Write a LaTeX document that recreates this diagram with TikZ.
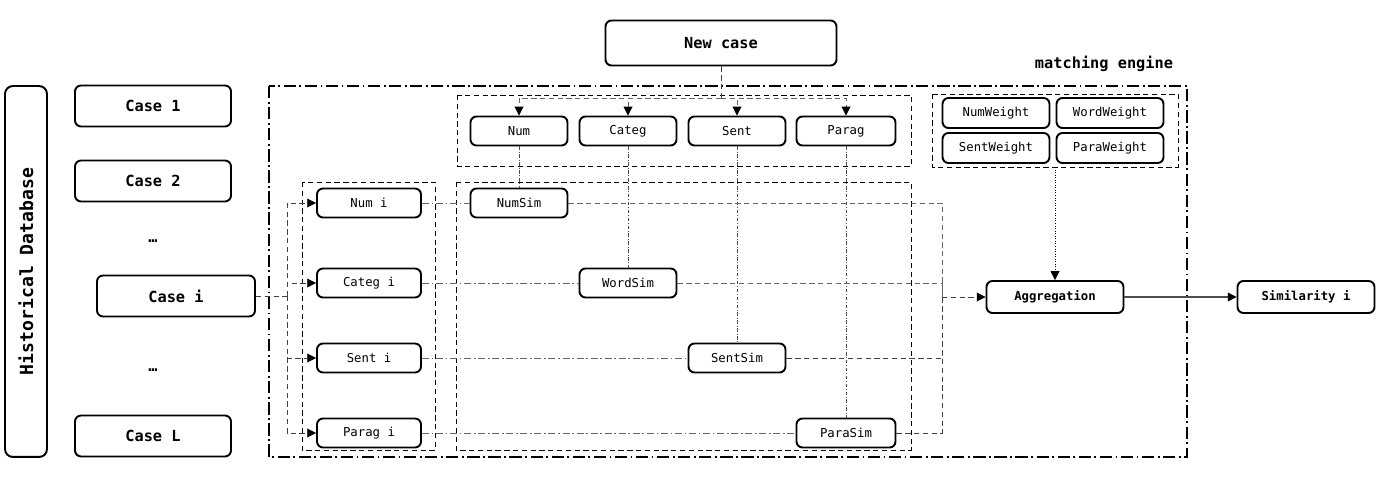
\documentclass[tikz,border=0pt]{standalone}
\usepackage{fontspec}
\setmonofont{DejaVu Sans Mono}
\usepackage{tikz}
\usetikzlibrary{arrows.meta,positioning,shapes}

\tikzset{
  box/.style={draw, rounded corners=3.4pt, line width=1.1pt, align=center, fill=white},
  bigbox/.style={box, minimum width=3.12cm, minimum height=0.82cm, font=\fontsize{8.7}{10}\selectfont\ttfamily\bfseries},
  attrbox/.style={box, minimum width=1.94cm, minimum height=0.58cm, font=\fontsize{7}{8}\selectfont\ttfamily},
  wbox/.style={box, minimum width=2.14cm, minimum height=0.6cm, font=\fontsize{7}{8}\selectfont\ttfamily},
  outbox/.style={box, minimum width=2.74cm, minimum height=0.64cm, font=\fontsize{7}{8}\selectfont\ttfamily\bfseries},
  group/.style={dash pattern=on 3pt off 2pt, line width=0.5pt},
  tip/.style={-{Triangle[length=5pt,width=5pt,color=black]}},
  feed/.style={densely dashed, line width=0.5pt, black!75},
  pair/.style={dash pattern=on 4pt off 1.5pt on 1pt off 1.5pt, line width=0.5pt, black!60},
  drop/.style={dash pattern=on 2pt off 1pt on 0.5pt off 1pt, line width=0.4pt, black!70}
}

\begin{document}
\begin{tikzpicture}[x=0.02cm, y=-0.02cm]
\useasboundingbox (0,0) rectangle (1400,479);

% -------- Marcos --------
\draw[dash pattern=on 7pt off 2pt on 1pt off 2pt, line width=0.8pt] (269,86) rectangle (1187,457);
\draw[group] (457,95) rectangle (911,166);
\draw[group] (932,94) rectangle (1178,167);
\draw[group] (302,182) rectangle (435,450);
\draw[group] (456,182) rectangle (911,450);
\node[font=\fontsize{8.7}{10}\selectfont\ttfamily\bfseries] (engine) at (1104,64) {matching engine};

% -------- Base historica --------
\node[draw, rounded corners=4.5pt, line width=1.1pt, minimum width=7.42cm, minimum height=0.84cm,
  rotate=90, font=\fontsize{10.3}{12}\selectfont\ttfamily\bfseries] (hist) at (26,271.5) {Historical Database};
\node[bigbox] (case1) at (153,106) {Case 1};
\node[bigbox] (case2) at (153,181) {Case 2};
\node[font=\fontsize{8.7}{10}\selectfont\ttfamily\bfseries] (dots1) at (153,241) {…};
\node[bigbox, minimum width=3.16cm] (casei) at (176,296) {Case i};
\node[font=\fontsize{8.7}{10}\selectfont\ttfamily\bfseries] (dots2) at (153,370) {…};
\node[bigbox] (caseL) at (153,436) {Case L};

% -------- Nuevo caso --------
\node[bigbox, minimum width=4.62cm, minimum height=0.9cm] (new) at (721,43) {New case};
\node[attrbox] (num) at (519,131) {Num};
\node[attrbox] (categ) at (628,131) {Categ};
\node[attrbox] (sent) at (737,131) {Sent};
\node[attrbox, minimum width=1.98cm] (parag) at (846,131) {Parag};

% -------- Caso i --------
\node[attrbox, minimum width=2.08cm] (numi) at (369,203) {Num i};
\node[attrbox, minimum width=2.08cm] (categi) at (369,283) {Categ i};
\node[attrbox, minimum width=2.08cm] (senti) at (369,358) {Sent i};
\node[attrbox, minimum width=2.08cm] (paragi) at (369,433) {Parag i};

% -------- Similitudes --------
\node[attrbox] (numsim) at (519,203) {NumSim};
\node[attrbox] (wordsim) at (628,283) {WordSim};
\node[attrbox] (sentsim) at (737,358) {SentSim};
\node[attrbox, minimum width=1.98cm] (parasim) at (846,433) {ParaSim};

% -------- Pesos --------
\node[wbox] (numw) at (996,113) {NumWeight};
\node[wbox] (wordw) at (1110,113) {WordWeight};
\node[wbox] (sentw) at (996,148) {SentWeight};
\node[wbox] (paraw) at (1110,148) {ParaWeight};

% -------- Salida --------
\node[outbox] (agg) at (1055,297) {Aggregation};
\node[outbox] (sim) at (1306,297) {Similarity i};

% Puntos de union
\coordinate (split) at (721,98);
\coordinate (fork) at (287,296);
\coordinate (merge) at (942,297);
\coordinate (wgt) at (1055,167);

% Aristas
\draw[feed] (new) -- (split);
\foreach \t in {num,categ,sent,parag}
  \draw[feed, black!60, tip] (split) -| (\t);
\draw[feed] (casei) -- (fork);
\foreach \t in {numi,categi,senti,paragi}
  \draw[feed, tip] (fork) |- (\t);
\draw[pair] (numi) -- (numsim);
\draw[pair] (categi) -- (wordsim);
\draw[pair] (senti) -- (sentsim);
\draw[pair] (paragi) -- (parasim);
\draw[drop] (num) -- (numsim);
\draw[drop] (categ) -- (wordsim);
\draw[drop] (sent) -- (sentsim);
\draw[drop] (parag) -- (parasim);
\draw[feed, black!60] (numsim) -| (merge);
\draw[feed, black!60] (wordsim) -| (merge);
\draw[feed] (sentsim) -| (merge);
\draw[feed] (parasim) -| (merge);
\draw[feed, tip] (merge) -- (agg);
\draw[densely dotted, line width=0.45pt, tip] (wgt) -- (agg);
\draw[line width=0.6pt, black!70, tip] (agg) -- (sim);

\end{tikzpicture}
\end{document}
